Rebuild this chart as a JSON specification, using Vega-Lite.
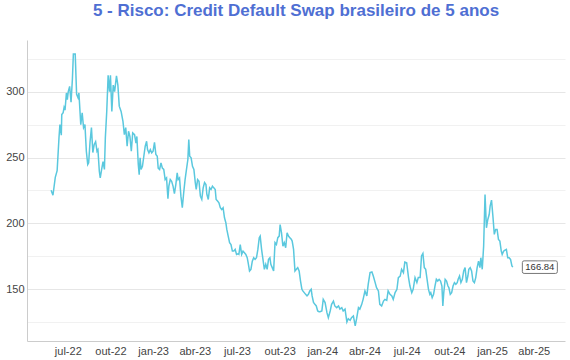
{
  "$schema": "https://vega.github.io/schema/vega-lite/v6.json",
  "width": 538,
  "height": 301,
  "autosize": {"type": "none"},
  "padding": {"left": 27, "top": 40, "right": 5, "bottom": 19},
  "background": "white",
  "title": {"text": "5 - Risco: Credit Default Swap brasileiro de 5 anos", "font": "Liberation Sans", "fontSize": 17, "fontWeight": "bold", "color": "#4f6fd3", "anchor": "middle", "frame": "group", "offset": 20},
  "config": {"view": {"stroke": null}},
  "datasets": {
    "cds": [
      {"date": "2022-05-26", "value": 225.2}, {"date": "2022-05-30", "value": 221.4}, {"date": "2022-06-04", "value": 235}, {"date": "2022-06-08", "value": 240},
      {"date": "2022-06-12", "value": 265}, {"date": "2022-06-14", "value": 275}, {"date": "2022-06-17", "value": 267}, {"date": "2022-06-18", "value": 282.6},
      {"date": "2022-06-21", "value": 284}, {"date": "2022-06-23", "value": 288}, {"date": "2022-06-25", "value": 286}, {"date": "2022-06-28", "value": 299},
      {"date": "2022-06-30", "value": 294}, {"date": "2022-07-02", "value": 300}, {"date": "2022-07-05", "value": 304}, {"date": "2022-07-08", "value": 292},
      {"date": "2022-07-11", "value": 310}, {"date": "2022-07-13", "value": 328.5}, {"date": "2022-07-17", "value": 328.5}, {"date": "2022-07-20", "value": 298},
      {"date": "2022-07-23", "value": 295.5}, {"date": "2022-07-25", "value": 299}, {"date": "2022-07-29", "value": 275}, {"date": "2022-08-01", "value": 284},
      {"date": "2022-08-04", "value": 272.7}, {"date": "2022-08-07", "value": 275}, {"date": "2022-08-10", "value": 254.8}, {"date": "2022-08-13", "value": 244.7},
      {"date": "2022-08-15", "value": 246}, {"date": "2022-08-18", "value": 262}, {"date": "2022-08-21", "value": 272.7}, {"date": "2022-08-24", "value": 253.8},
      {"date": "2022-08-27", "value": 260}, {"date": "2022-08-30", "value": 262}, {"date": "2022-09-02", "value": 254.8}, {"date": "2022-09-04", "value": 256},
      {"date": "2022-09-07", "value": 239.6}, {"date": "2022-09-09", "value": 234.6}, {"date": "2022-09-12", "value": 241}, {"date": "2022-09-15", "value": 247},
      {"date": "2022-09-18", "value": 241}, {"date": "2022-09-20", "value": 265}, {"date": "2022-09-23", "value": 285}, {"date": "2022-09-26", "value": 312.4},
      {"date": "2022-09-29", "value": 300}, {"date": "2022-10-01", "value": 312.4}, {"date": "2022-10-04", "value": 285}, {"date": "2022-10-07", "value": 305},
      {"date": "2022-10-10", "value": 300}, {"date": "2022-10-14", "value": 312}, {"date": "2022-10-17", "value": 305}, {"date": "2022-10-20", "value": 289},
      {"date": "2022-10-24", "value": 285}, {"date": "2022-10-28", "value": 277.5}, {"date": "2022-10-31", "value": 267.4}, {"date": "2022-11-03", "value": 272.7},
      {"date": "2022-11-06", "value": 258.6}, {"date": "2022-11-09", "value": 270}, {"date": "2022-11-12", "value": 266}, {"date": "2022-11-15", "value": 254.8},
      {"date": "2022-11-18", "value": 268.7}, {"date": "2022-11-22", "value": 267.4}, {"date": "2022-11-25", "value": 261}, {"date": "2022-11-27", "value": 266},
      {"date": "2022-11-30", "value": 245}, {"date": "2022-12-02", "value": 237}, {"date": "2022-12-04", "value": 249.8}, {"date": "2022-12-06", "value": 241},
      {"date": "2022-12-09", "value": 243.4}, {"date": "2022-12-12", "value": 251}, {"date": "2022-12-15", "value": 258.6}, {"date": "2022-12-18", "value": 262.4},
      {"date": "2022-12-20", "value": 256}, {"date": "2022-12-23", "value": 253.6}, {"date": "2022-12-26", "value": 256}, {"date": "2022-12-29", "value": 253.6},
      {"date": "2023-01-01", "value": 254.8}, {"date": "2023-01-04", "value": 261.6}, {"date": "2023-01-07", "value": 252.3}, {"date": "2023-01-10", "value": 251},
      {"date": "2023-01-12", "value": 242}, {"date": "2023-01-15", "value": 241}, {"date": "2023-01-18", "value": 246}, {"date": "2023-01-21", "value": 242},
      {"date": "2023-01-24", "value": 241}, {"date": "2023-01-27", "value": 233.3}, {"date": "2023-01-30", "value": 234.6}, {"date": "2023-02-02", "value": 218.7},
      {"date": "2023-02-04", "value": 228.3}, {"date": "2023-02-07", "value": 233.3}, {"date": "2023-02-10", "value": 232}, {"date": "2023-02-13", "value": 228.3},
      {"date": "2023-02-16", "value": 222.7}, {"date": "2023-02-19", "value": 229.5}, {"date": "2023-02-22", "value": 238.4}, {"date": "2023-02-24", "value": 233.3},
      {"date": "2023-02-27", "value": 234.6}, {"date": "2023-03-02", "value": 220.7}, {"date": "2023-03-05", "value": 211.9}, {"date": "2023-03-08", "value": 223.3},
      {"date": "2023-03-11", "value": 233.3}, {"date": "2023-03-14", "value": 241}, {"date": "2023-03-17", "value": 248.5}, {"date": "2023-03-19", "value": 263.6},
      {"date": "2023-03-21", "value": 251}, {"date": "2023-03-24", "value": 249.8}, {"date": "2023-03-27", "value": 243.4}, {"date": "2023-03-30", "value": 241},
      {"date": "2023-04-02", "value": 231}, {"date": "2023-04-04", "value": 225.8}, {"date": "2023-04-07", "value": 233.3}, {"date": "2023-04-10", "value": 232},
      {"date": "2023-04-13", "value": 220.7}, {"date": "2023-04-16", "value": 218.2}, {"date": "2023-04-19", "value": 227}, {"date": "2023-04-22", "value": 231},
      {"date": "2023-04-25", "value": 229.5}, {"date": "2023-04-27", "value": 222}, {"date": "2023-04-30", "value": 218.2}, {"date": "2023-05-03", "value": 227},
      {"date": "2023-05-06", "value": 225.8}, {"date": "2023-05-09", "value": 228.3}, {"date": "2023-05-12", "value": 227}, {"date": "2023-05-15", "value": 225.8},
      {"date": "2023-05-17", "value": 218.2}, {"date": "2023-05-20", "value": 217}, {"date": "2023-05-23", "value": 215.7}, {"date": "2023-05-26", "value": 211.9},
      {"date": "2023-05-29", "value": 210.6}, {"date": "2023-06-01", "value": 211.9}, {"date": "2023-06-04", "value": 204.3}, {"date": "2023-06-07", "value": 200.5},
      {"date": "2023-06-09", "value": 195.5}, {"date": "2023-06-12", "value": 190.4}, {"date": "2023-06-15", "value": 185.4}, {"date": "2023-06-18", "value": 184},
      {"date": "2023-06-21", "value": 179}, {"date": "2023-06-24", "value": 179}, {"date": "2023-06-27", "value": 180.3}, {"date": "2023-06-30", "value": 176.5},
      {"date": "2023-07-03", "value": 177}, {"date": "2023-07-05", "value": 176.5}, {"date": "2023-07-08", "value": 184}, {"date": "2023-07-11", "value": 176.5},
      {"date": "2023-07-14", "value": 179}, {"date": "2023-07-17", "value": 177.8}, {"date": "2023-07-20", "value": 176.5}, {"date": "2023-07-23", "value": 174},
      {"date": "2023-07-25", "value": 170.2}, {"date": "2023-07-28", "value": 163.9}, {"date": "2023-07-31", "value": 165.2}, {"date": "2023-08-03", "value": 171.4},
      {"date": "2023-08-06", "value": 174}, {"date": "2023-08-09", "value": 172.7}, {"date": "2023-08-12", "value": 174}, {"date": "2023-08-15", "value": 180.3},
      {"date": "2023-08-18", "value": 189.2}, {"date": "2023-08-20", "value": 190.4}, {"date": "2023-08-23", "value": 180.3}, {"date": "2023-08-26", "value": 172.7},
      {"date": "2023-08-29", "value": 165.2}, {"date": "2023-09-01", "value": 169}, {"date": "2023-09-04", "value": 165.2}, {"date": "2023-09-07", "value": 172.7},
      {"date": "2023-09-10", "value": 174}, {"date": "2023-09-12", "value": 169}, {"date": "2023-09-15", "value": 166.5}, {"date": "2023-09-18", "value": 163.9},
      {"date": "2023-09-21", "value": 185.4}, {"date": "2023-09-24", "value": 184}, {"date": "2023-09-27", "value": 189.2}, {"date": "2023-09-30", "value": 190.4},
      {"date": "2023-10-02", "value": 199.2}, {"date": "2023-10-05", "value": 192.9}, {"date": "2023-10-08", "value": 182.8}, {"date": "2023-10-11", "value": 185.4},
      {"date": "2023-10-14", "value": 181.6}, {"date": "2023-10-17", "value": 192.9}, {"date": "2023-10-20", "value": 190.4}, {"date": "2023-10-23", "value": 189.2},
      {"date": "2023-10-26", "value": 188}, {"date": "2023-10-28", "value": 186.6}, {"date": "2023-10-31", "value": 180.3}, {"date": "2023-11-03", "value": 163.9},
      {"date": "2023-11-06", "value": 165.2}, {"date": "2023-11-09", "value": 166.5}, {"date": "2023-11-12", "value": 163.9}, {"date": "2023-11-15", "value": 156.3},
      {"date": "2023-11-18", "value": 150}, {"date": "2023-11-20", "value": 148.8}, {"date": "2023-11-23", "value": 147.5}, {"date": "2023-11-26", "value": 146.2},
      {"date": "2023-11-29", "value": 145}, {"date": "2023-12-02", "value": 146.2}, {"date": "2023-12-05", "value": 148.8}, {"date": "2023-12-08", "value": 150},
      {"date": "2023-12-10", "value": 145}, {"date": "2023-12-13", "value": 140}, {"date": "2023-12-16", "value": 138.6}, {"date": "2023-12-19", "value": 137.4},
      {"date": "2023-12-22", "value": 133.6}, {"date": "2023-12-25", "value": 133}, {"date": "2023-12-27", "value": 133}, {"date": "2023-12-31", "value": 133.6},
      {"date": "2024-01-03", "value": 142.4}, {"date": "2024-01-07", "value": 140}, {"date": "2024-01-11", "value": 132.3}, {"date": "2024-01-14", "value": 128.5},
      {"date": "2024-01-18", "value": 133.6}, {"date": "2024-01-21", "value": 138.6}, {"date": "2024-01-25", "value": 141.1}, {"date": "2024-01-28", "value": 137.4},
      {"date": "2024-02-01", "value": 136.1}, {"date": "2024-02-05", "value": 137.4}, {"date": "2024-02-08", "value": 135}, {"date": "2024-02-12", "value": 136.1},
      {"date": "2024-02-15", "value": 133.6}, {"date": "2024-02-19", "value": 135}, {"date": "2024-02-23", "value": 125.2}, {"date": "2024-02-26", "value": 127.7},
      {"date": "2024-03-01", "value": 126.5}, {"date": "2024-03-04", "value": 128.5}, {"date": "2024-03-08", "value": 129.8}, {"date": "2024-03-12", "value": 122.3},
      {"date": "2024-03-15", "value": 127.7}, {"date": "2024-03-19", "value": 136.1}, {"date": "2024-03-22", "value": 135}, {"date": "2024-03-26", "value": 138.6},
      {"date": "2024-03-29", "value": 142.4}, {"date": "2024-04-02", "value": 148.8}, {"date": "2024-04-06", "value": 145}, {"date": "2024-04-09", "value": 153.8},
      {"date": "2024-04-13", "value": 162.7}, {"date": "2024-04-17", "value": 163.2}, {"date": "2024-04-20", "value": 160.1}, {"date": "2024-04-24", "value": 155.1},
      {"date": "2024-04-27", "value": 151.3}, {"date": "2024-05-01", "value": 148.8}, {"date": "2024-05-04", "value": 138.6}, {"date": "2024-05-08", "value": 137.4},
      {"date": "2024-05-12", "value": 141.1}, {"date": "2024-05-15", "value": 142.4}, {"date": "2024-05-19", "value": 141.6}, {"date": "2024-05-22", "value": 148.8},
      {"date": "2024-05-26", "value": 146.2}, {"date": "2024-05-30", "value": 145}, {"date": "2024-06-02", "value": 142.4}, {"date": "2024-06-06", "value": 147.5},
      {"date": "2024-06-10", "value": 150}, {"date": "2024-06-13", "value": 158.9}, {"date": "2024-06-17", "value": 160.1}, {"date": "2024-06-20", "value": 165.2},
      {"date": "2024-06-24", "value": 162.7}, {"date": "2024-06-27", "value": 170.7}, {"date": "2024-07-01", "value": 170.2}, {"date": "2024-07-05", "value": 158.9},
      {"date": "2024-07-08", "value": 152.5}, {"date": "2024-07-12", "value": 147.5}, {"date": "2024-07-15", "value": 150}, {"date": "2024-07-19", "value": 158.9},
      {"date": "2024-07-23", "value": 155.1}, {"date": "2024-07-26", "value": 158.9}, {"date": "2024-07-30", "value": 158.9}, {"date": "2024-08-02", "value": 175.4},
      {"date": "2024-08-05", "value": 177.3}, {"date": "2024-08-08", "value": 166.5}, {"date": "2024-08-11", "value": 165.2}, {"date": "2024-08-14", "value": 157.6},
      {"date": "2024-08-17", "value": 150}, {"date": "2024-08-20", "value": 146.2}, {"date": "2024-08-22", "value": 147.5}, {"date": "2024-08-25", "value": 143.7},
      {"date": "2024-08-28", "value": 146.2}, {"date": "2024-08-31", "value": 152.5}, {"date": "2024-09-03", "value": 157.6}, {"date": "2024-09-06", "value": 156.3},
      {"date": "2024-09-09", "value": 157.6}, {"date": "2024-09-12", "value": 156.3}, {"date": "2024-09-15", "value": 152.5}, {"date": "2024-09-17", "value": 137.4},
      {"date": "2024-09-19", "value": 147.5}, {"date": "2024-09-22", "value": 157.6}, {"date": "2024-09-25", "value": 156.3}, {"date": "2024-09-28", "value": 152.5},
      {"date": "2024-09-30", "value": 151.3}, {"date": "2024-10-03", "value": 146.2}, {"date": "2024-10-06", "value": 147.5}, {"date": "2024-10-09", "value": 152.5},
      {"date": "2024-10-12", "value": 155.1}, {"date": "2024-10-15", "value": 153.8}, {"date": "2024-10-18", "value": 155.1}, {"date": "2024-10-20", "value": 157.6},
      {"date": "2024-10-23", "value": 160.1}, {"date": "2024-10-26", "value": 155.1}, {"date": "2024-10-29", "value": 157.6}, {"date": "2024-11-01", "value": 163.9},
      {"date": "2024-11-04", "value": 166.5}, {"date": "2024-11-07", "value": 155.1}, {"date": "2024-11-10", "value": 160.1}, {"date": "2024-11-12", "value": 165.2},
      {"date": "2024-11-15", "value": 166.5}, {"date": "2024-11-18", "value": 163.9}, {"date": "2024-11-21", "value": 156.3}, {"date": "2024-11-24", "value": 155.1},
      {"date": "2024-11-27", "value": 158.9}, {"date": "2024-11-30", "value": 166.5}, {"date": "2024-12-03", "value": 171.4}, {"date": "2024-12-06", "value": 166.5},
      {"date": "2024-12-08", "value": 174}, {"date": "2024-12-11", "value": 165.2}, {"date": "2024-12-14", "value": 182.8}, {"date": "2024-12-17", "value": 222},
      {"date": "2024-12-20", "value": 196.7}, {"date": "2024-12-23", "value": 203}, {"date": "2024-12-26", "value": 206.8}, {"date": "2024-12-28", "value": 213.1},
      {"date": "2024-12-31", "value": 217.7}, {"date": "2025-01-03", "value": 205.5}, {"date": "2025-01-06", "value": 191.7}, {"date": "2025-01-09", "value": 195.5},
      {"date": "2025-01-12", "value": 195.5}, {"date": "2025-01-15", "value": 187.9}, {"date": "2025-01-18", "value": 186.6}, {"date": "2025-01-21", "value": 179},
      {"date": "2025-01-23", "value": 176.5}, {"date": "2025-01-26", "value": 179}, {"date": "2025-01-29", "value": 179.8}, {"date": "2025-02-01", "value": 180.3},
      {"date": "2025-02-04", "value": 174}, {"date": "2025-02-07", "value": 174}, {"date": "2025-02-10", "value": 172.7}, {"date": "2025-02-13", "value": 167.7},
      {"date": "2025-02-15", "value": 166.84}
    ],
    "last": [{"date": "2025-02-15", "value": 166.84}]
  },
  "encoding": {
    "x": {
      "field": "date", "type": "temporal",
      "scale": {"type": "utc", "domain": ["2022-04-04T00:00:00Z", "2025-06-07T12:00:00Z"]},
      "axis": {
        "title": null, "grid": false, "ticks": false, "domainColor": "#cccccc", "domainWidth": 1,
        "labelPadding": 4, "labelFont": "Liberation Sans", "labelFontSize": 11, "labelColor": "#444444",
        "tickCount": {"interval": "month", "step": 3},
        "labelExpr": "['jan','fev','mar','abr','mai','jun','jul','ago','set','out','nov','dez'][utcmonth(datum.value)] + '-' + utcFormat(datum.value, '%y')"
      }
    },
    "y": {
      "field": "value", "type": "quantitative",
      "scale": {"domain": [110.8, 339.2], "nice": false, "zero": false},
      "axis": {
        "title": null, "ticks": false, "domainColor": "#cccccc", "domainWidth": 1,
        "values": [125, 150, 175, 200, 225, 250, 275, 300, 325],
        "labelExpr": "datum.value % 50 === 0 ? datum.label : ''",
        "labelPadding": 3, "labelFont": "Liberation Sans", "labelFontSize": 11, "labelColor": "#444444",
        "gridColor": {"condition": {"test": "datum.value % 50 === 0", "value": "#e6e6e6"}, "value": "#f1f1f1"},
        "gridWidth": 1
      }
    }
  },
  "layer": [
    {
      "data": {"name": "cds"},
      "mark": {"type": "line", "color": "#5ac8de", "strokeWidth": 1.5}
    },
    {
      "data": {"name": "last"},
      "mark": {"type": "point", "shape": "M-0.9,-0.36L0.9,-0.36Q1,-0.36 1,-0.26L1,0.26Q1,0.36 0.9,0.36L-0.9,0.36Q-1,0.36 -1,0.26L-1,-0.26Q-1,-0.36 -0.9,-0.36Z", "size": 1225, "filled": true, "fill": "white", "stroke": "#777777", "strokeWidth": 1, "opacity": 1, "xOffset": 27}
    },
    {
      "data": {"name": "last"},
      "mark": {"type": "text", "font": "Liberation Sans", "fontSize": 9.5, "color": "#333333", "xOffset": 27, "baseline": "middle", "align": "center"},
      "encoding": {"text": {"field": "value", "type": "quantitative", "format": ".2f"}}
    }
  ]
}
